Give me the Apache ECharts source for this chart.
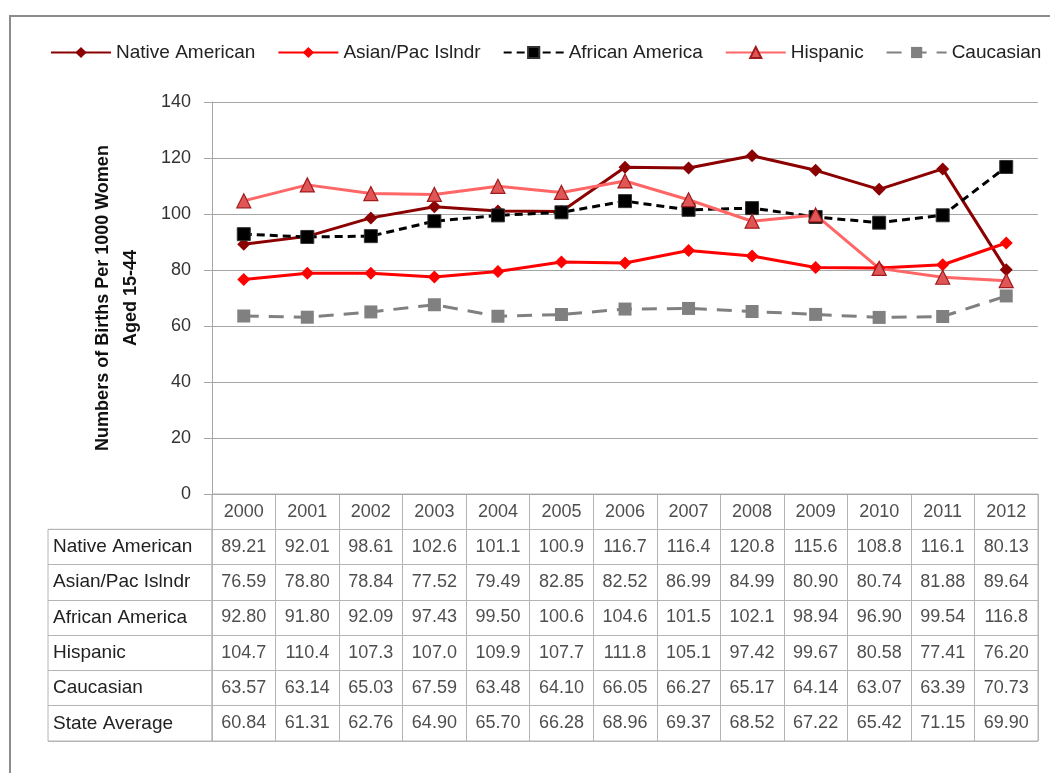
<!DOCTYPE html>
<html>
<head>
<meta charset="utf-8">
<script src="https://cdn.jsdelivr.net/npm/echarts@6/dist/echarts.min.js"></script>
<style>
html,body{margin:0;padding:0;background:#fff;}
#chart{width:1050px;height:773px;}
</style>
</head>
<body>
<div id="chart"></div>
<script>
var years = ['2000','2001','2002','2003','2004','2005','2006','2007','2008','2009','2010','2011','2012'];
var nativeAmerican = [89.21,92.01,98.61,102.6,101.1,100.9,116.7,116.4,120.8,115.6,108.8,116.1,80.13];
var asianPac = [76.59,78.80,78.84,77.52,79.49,82.85,82.52,86.99,84.99,80.90,80.74,81.88,89.64];
var africanAmerica = [92.80,91.80,92.09,97.43,99.50,100.6,104.6,101.5,102.1,98.94,96.90,99.54,116.8];
var hispanic = [104.7,110.4,107.3,107.0,109.9,107.7,111.8,105.1,97.42,99.67,80.58,77.41,76.20];
var caucasian = [63.57,63.14,65.03,67.59,63.48,64.10,66.05,66.27,65.17,64.14,63.07,63.39,70.73];
var stateAverage = [60.84,61.31,62.76,64.90,65.70,66.28,68.96,69.37,68.52,67.22,65.42,71.15,69.90];
var seriesNames = ['Native American','Asian/Pac Islndr','African America','Hispanic','Caucasian'];
var rowNames = ['Native American','Asian/Pac Islndr','African America','Hispanic','Caucasian','State Average'];
var yTicks = {min:0, max:140, interval:20};

var FONT = 'Liberation Sans';
var tableRows = [nativeAmerican, asianPac, africanAmerica, hispanic, caucasian, stateAverage];
function fmt(v){ return v >= 100 ? v.toFixed(1) : v.toFixed(2); }

var cellData = [];
years.forEach(function(y, i){ cellData.push({value:[i, 0], label:{formatter: y}}); });
tableRows.forEach(function(row, r){
  row.forEach(function(v, i){ cellData.push({value:[i, r+1], label:{formatter: fmt(v)}}); });
});

var chart = echarts.init(document.getElementById('chart'));
var option = {
  animation: false,
  textStyle: {fontFamily: FONT},
  graphic: [{
    type:'rect', silent:true, z:-10,
    shape:{x:10, y:16, width:1100, height:800},
    style:{fill:'none', stroke:'#8c8c8c', lineWidth:2}
  }],
  legend: {
    data: seriesNames,
    left: 45, top: 38, width: 1005,
    itemWidth: 60, itemHeight: 14, itemGap: 22,
    textStyle: {fontFamily: FONT, fontSize: 19, color:'#222'}
  },
  grid: [
    {left:212, right:12, top:102, height:392},
    {left:212, right:12, top:494, height:247, show:true, borderColor:'#b4b4b4', borderWidth:1},
    {left:48, width:164, top:529.3, height:211.7, show:true, borderColor:'#b4b4b4', borderWidth:1}
  ],
  xAxis: [
    {gridIndex:0, type:'category', data:years, boundaryGap:true,
     axisLine:{show:true, lineStyle:{color:'#a6a6a6', width:1}},
     axisTick:{show:false}, axisLabel:{show:false}},
    {gridIndex:1, type:'category', data:years, boundaryGap:true,
     axisLine:{show:false}, axisTick:{show:false}, axisLabel:{show:false},
     splitLine:{show:true, lineStyle:{color:'#b4b4b4', width:1}}},
    {gridIndex:2, type:'value', show:false, min:0, max:1}
  ],
  yAxis: [
    {gridIndex:0, type:'value', min:yTicks.min, max:yTicks.max, interval:yTicks.interval,
     name:'Numbers of Births Per 1000 Women\nAged 15-44',
     nameLocation:'middle', nameGap:67,
     nameTextStyle:{fontFamily:FONT, fontSize:18, fontWeight:'bold', color:'#111', lineHeight:28},
     axisLine:{show:true, lineStyle:{color:'#a6a6a6', width:1}},
     axisTick:{show:true, length:8, lineStyle:{color:'#a6a6a6'}},
     axisLabel:{fontFamily:FONT, fontSize:18, color:'#333', margin:21},
     splitLine:{show:true, lineStyle:{color:'#a6a6a6', width:1}}},
    {gridIndex:1, type:'category', inverse:true, data:[''].concat(rowNames), boundaryGap:true,
     axisLine:{show:false}, axisTick:{show:false}, axisLabel:{show:false},
     splitLine:{show:true, lineStyle:{color:'#b4b4b4', width:1}}},
    {gridIndex:2, type:'category', inverse:true, data:rowNames, boundaryGap:true,
     axisLine:{show:false}, axisTick:{show:false},
     axisLabel:{inside:true, margin:5, fontFamily:FONT, fontSize:19, color:'#222'},
     splitLine:{show:true, lineStyle:{color:'#b4b4b4', width:1}}}
  ],
  series: [
    {name:'Native American', type:'line', data:nativeAmerican, symbol:'diamond', symbolSize:13,
     lineStyle:{color:'#8b0000', width:3}, itemStyle:{color:'#8b0000'}},
    {name:'Asian/Pac Islndr', type:'line', data:asianPac, symbol:'diamond', symbolSize:13,
     lineStyle:{color:'#ff0000', width:3}, itemStyle:{color:'#ff0000'}},
    {name:'African America', type:'line', data:africanAmerica, symbol:'rect', symbolSize:13,
     lineStyle:{color:'#000000', width:3, type:[8,5]}, itemStyle:{color:'#000000', borderColor:'#333', borderWidth:1}},
    {name:'Hispanic', type:'line', data:hispanic, symbol:'triangle', symbolSize:14,
     lineStyle:{color:'#ff6666', width:3}, itemStyle:{color:'#e05555', borderColor:'#a01c1c', borderWidth:1.2}},
    {name:'Caucasian', type:'line', data:caucasian, symbol:'rect', symbolSize:13,
     lineStyle:{color:'#808080', width:3, type:[15,10]}, itemStyle:{color:'#808080'}},
    {name:'table', type:'scatter', xAxisIndex:1, yAxisIndex:1, data:cellData,
     symbolSize:1, itemStyle:{color:'rgba(0,0,0,0)'}, silent:true,
     label:{show:true, position:'inside', fontFamily:FONT, fontSize:18, color:'#222'}}
  ]
};
chart.setOption(option);
</script>
</body>
</html>
